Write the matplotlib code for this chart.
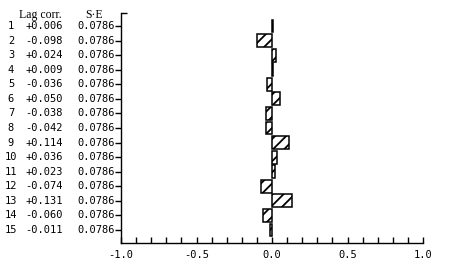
import matplotlib
matplotlib.use("Agg")
import matplotlib.pyplot as plt
import matplotlib.transforms as mtransforms
from matplotlib.ticker import MultipleLocator, FixedLocator

lags = list(range(1, 16))
corr = [0.006, -0.098, 0.024, 0.009, -0.036, 0.050, -0.038, -0.042,
        0.114, 0.036, 0.023, -0.074, 0.131, -0.060, -0.011]
se = [0.0786] * 15
xticks = [-1.0, -0.5, 0.0, 0.5, 1.0]
xticklabels = ["-1.0", "-0.5", "0.0", "0.5", "1.0"]

plt.rcParams["hatch.linewidth"] = 1.3

W, H = 451, 263
fig = plt.figure(figsize=(W / 100, H / 100), dpi=100)
ax = fig.add_axes([121 / W, 1 - 243 / H, (423 - 121) / W, (243 - 13) / H])

mono = "DejaVu Sans Mono"
serif = "Liberation Serif"
fs = 7.5

ax.barh(lags, corr, height=0.88, color="white", edgecolor="black",
        hatch="///", linewidth=1.1, zorder=3)

ax.set_xlim(-1.0, 1.0)
ax.set_ylim(15.89, 0.11)

for s in ["top", "right"]:
    ax.spines[s].set_visible(False)
ax.spines["left"].set_linewidth(1.0)
ax.spines["bottom"].set_linewidth(1.0)

ax.set_xticks(xticks)
ax.set_xticklabels(xticklabels, fontfamily=mono, fontsize=fs)
ax.xaxis.set_minor_locator(MultipleLocator(0.1))
ax.tick_params(axis="x", which="both", direction="in", length=4, width=1, pad=5)

ax.set_yticks(lags)
ax.set_yticklabels([])
ax.tick_params(axis="y", which="major", direction="out", length=4, width=1)
ax.yaxis.set_minor_locator(FixedLocator([0.11]))
ax.tick_params(axis="y", which="minor", direction="in", length=4, width=1)

trans = mtransforms.blended_transform_factory(fig.transFigure, ax.transData)
for lag, c, s in zip(lags, corr, se):
    ax.text(11 / W, lag, f"{lag}", transform=trans, ha="center", va="center",
            fontfamily=mono, fontsize=fs, clip_on=False)
    ax.text(63 / W, lag, f"{c:+.3f}", transform=trans, ha="right", va="center",
            fontfamily=mono, fontsize=fs, clip_on=False)
    ax.text(115 / W, lag, f"{s:.4f}", transform=trans, ha="right", va="center",
            fontfamily=mono, fontsize=fs, clip_on=False)

fig.text(40 / W, 1 - 15 / H, "Lag corr.", ha="center", va="center",
         fontfamily=serif, fontsize=8.5)
fig.text(94 / W, 1 - 15 / H, "S\u00b7E", ha="center", va="center",
         fontfamily=serif, fontsize=8.5)

fig.savefig("out.png", dpi=100)
